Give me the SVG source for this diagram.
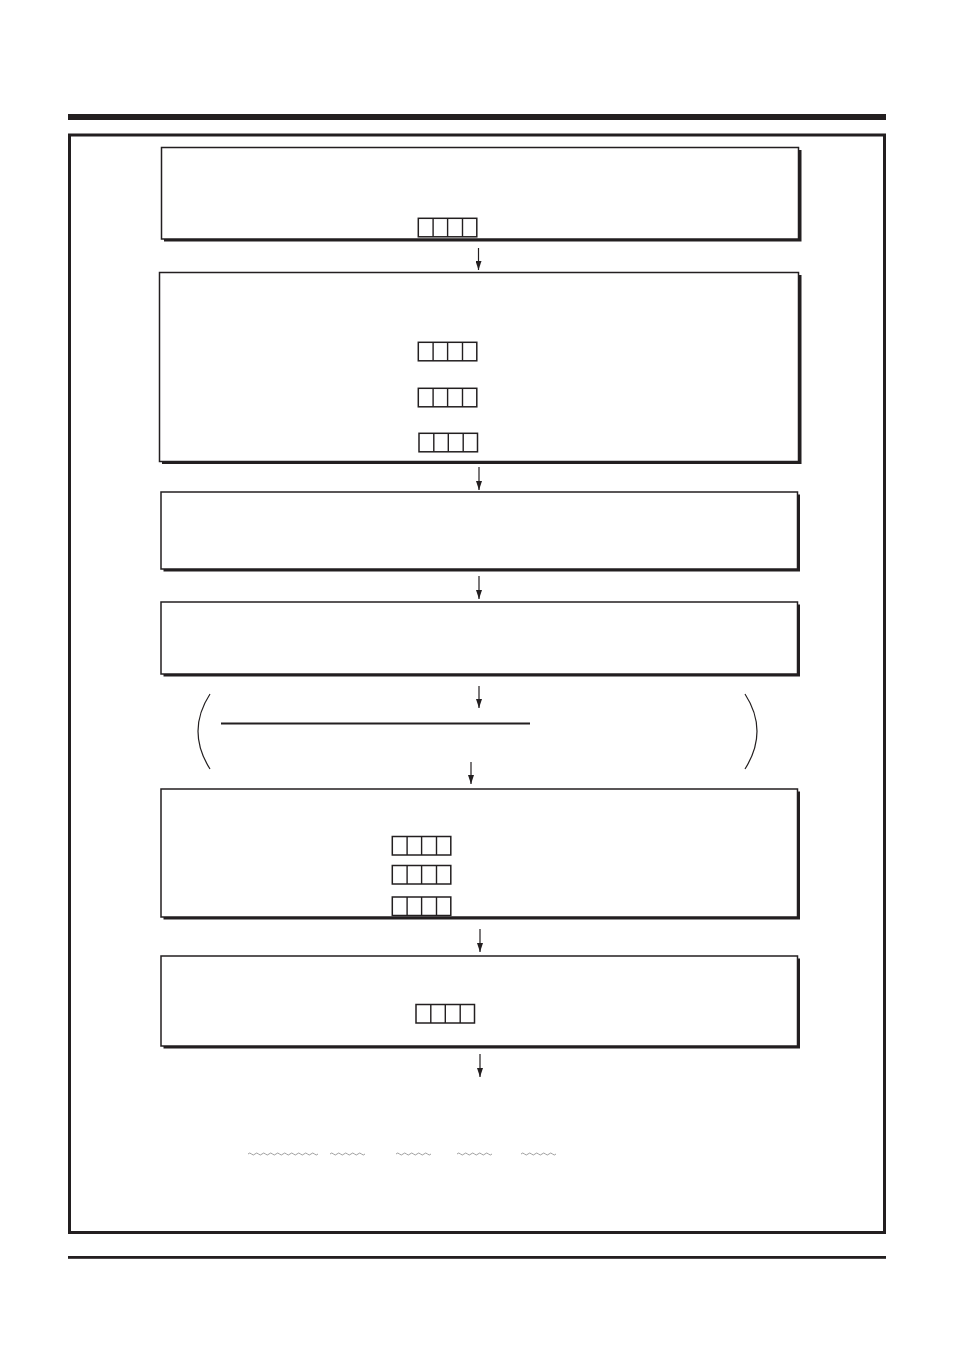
<svg xmlns="http://www.w3.org/2000/svg" width="954" height="1351" viewBox="0 0 954 1351">
<style>
.sh{fill:#231f20}
.bx{fill:#fff;stroke:#231f20;stroke-width:1.5}
.cell{fill:#fff;stroke:#231f20;stroke-width:1.5}
.div{stroke:#231f20;stroke-width:1.4}
.con{stroke:#231f20;stroke-width:1.2;fill:none}
.wave{stroke:#888;stroke-width:0.8;fill:none}
</style>
<defs>
<marker id="ah" viewBox="0 0 9 6" refX="9" refY="3" markerWidth="9" markerHeight="6" orient="auto" markerUnits="userSpaceOnUse">
<path d="M0,0 L9,3 L0,6 Z" fill="#231f20"/>
</marker>
<g id="cells4">
<rect class="cell" x="0" y="0" width="58.5" height="18.5"/>
<line class="div" x1="14.8" y1="0" x2="14.8" y2="18.5"/>
<line class="div" x1="29.3" y1="0" x2="29.3" y2="18.5"/>
<line class="div" x1="44.2" y1="0" x2="44.2" y2="18.5"/>
</g>
</defs>
<rect x="68" y="114" width="818" height="6" fill="#231f20"/>
<rect x="69.5" y="135" width="815" height="1097.5" fill="none" stroke="#231f20" stroke-width="3"/>
<rect x="68" y="1256" width="818" height="2.8" fill="#231f20"/>

<g id="node1">
<rect class="sh" x="164" y="150" width="637.5" height="91.5"/>
<rect class="bx" x="161.5" y="147.5" width="637" height="91.5"/>
<use href="#cells4" x="418.3" y="218.3"/>
</g>
<g id="node2">
<rect class="sh" x="162" y="275" width="639.5" height="189"/>
<rect class="bx" x="159.5" y="272.5" width="639" height="189"/>
<use href="#cells4" x="418.3" y="342.3"/>
<use href="#cells4" x="418.3" y="388.3"/>
<use href="#cells4" x="419" y="433.3"/>
</g>
<g id="node3">
<rect class="sh" x="163.5" y="494.5" width="636.5" height="77"/>
<rect class="bx" x="161" y="492" width="636.5" height="77"/>
</g>
<g id="node4">
<rect class="sh" x="163.5" y="604.5" width="636.5" height="72"/>
<rect class="bx" x="161" y="602" width="636.5" height="72"/>
</g>
<g id="bracket">
<path class="con" d="M210,694 Q186,731 210,769"/>
<path class="con" d="M745,694 Q769,731 745,769"/>
<line x1="221" y1="723.5" x2="530" y2="723.5" stroke="#231f20" stroke-width="2.2"/>
</g>
<g id="node5">
<rect class="sh" x="163.5" y="791.5" width="636.5" height="128"/>
<rect class="bx" x="161" y="789" width="636.5" height="128"/>
<use href="#cells4" x="392.3" y="836.5"/>
<use href="#cells4" x="392.3" y="865.5"/>
<use href="#cells4" x="392.3" y="897"/>
</g>
<g id="node6">
<rect class="sh" x="163.5" y="958.5" width="636.5" height="90"/>
<rect class="bx" x="161" y="956" width="636.5" height="90"/>
<use href="#cells4" x="416" y="1004.5"/>
</g>
<g id="connectors">
<line class="con" x1="478.5" y1="248" x2="478.5" y2="270" marker-end="url(#ah)"/>
<line class="con" x1="479" y1="467" x2="479" y2="490" marker-end="url(#ah)"/>
<line class="con" x1="479" y1="576" x2="479" y2="599" marker-end="url(#ah)"/>
<line class="con" x1="479" y1="686" x2="479" y2="708" marker-end="url(#ah)"/>
<line class="con" x1="471" y1="762" x2="471" y2="784" marker-end="url(#ah)"/>
<line class="con" x1="480" y1="929" x2="480" y2="952" marker-end="url(#ah)"/>
<line class="con" x1="480" y1="1054" x2="480" y2="1077" marker-end="url(#ah)"/>
</g>
<g id="waves">
<path class="wave" d="M248,1154 l1.75,-1 l1.75,1 l1.75,1 l1.75,-1 l1.75,-1 l1.75,1 l1.75,1 l1.75,-1 l1.75,-1 l1.75,1 l1.75,1 l1.75,-1 l1.75,-1 l1.75,1 l1.75,1 l1.75,-1 l1.75,-1 l1.75,1 l1.75,1 l1.75,-1 l1.75,-1 l1.75,1 l1.75,1 l1.75,-1 l1.75,-1 l1.75,1 l1.75,1 l1.75,-1 l1.75,-1 l1.75,1 l1.75,1 l1.75,-1 l1.75,-1 l1.75,1 l1.75,1 l1.75,-1 l1.75,-1 l1.75,1 l1.75,1 l1.75,-1"/>
<path class="wave" d="M330,1154 l1.75,-1 l1.75,1 l1.75,1 l1.75,-1 l1.75,-1 l1.75,1 l1.75,1 l1.75,-1 l1.75,-1 l1.75,1 l1.75,1 l1.75,-1 l1.75,-1 l1.75,1 l1.75,1 l1.75,-1 l1.75,-1 l1.75,1 l1.75,1 l1.75,-1"/>
<path class="wave" d="M396,1154 l1.75,-1 l1.75,1 l1.75,1 l1.75,-1 l1.75,-1 l1.75,1 l1.75,1 l1.75,-1 l1.75,-1 l1.75,1 l1.75,1 l1.75,-1 l1.75,-1 l1.75,1 l1.75,1 l1.75,-1 l1.75,-1 l1.75,1 l1.75,1 l1.75,-1"/>
<path class="wave" d="M457,1154 l1.75,-1 l1.75,1 l1.75,1 l1.75,-1 l1.75,-1 l1.75,1 l1.75,1 l1.75,-1 l1.75,-1 l1.75,1 l1.75,1 l1.75,-1 l1.75,-1 l1.75,1 l1.75,1 l1.75,-1 l1.75,-1 l1.75,1 l1.75,1 l1.75,-1"/>
<path class="wave" d="M521,1154 l1.75,-1 l1.75,1 l1.75,1 l1.75,-1 l1.75,-1 l1.75,1 l1.75,1 l1.75,-1 l1.75,-1 l1.75,1 l1.75,1 l1.75,-1 l1.75,-1 l1.75,1 l1.75,1 l1.75,-1 l1.75,-1 l1.75,1 l1.75,1 l1.75,-1"/>
</g>
</svg>
